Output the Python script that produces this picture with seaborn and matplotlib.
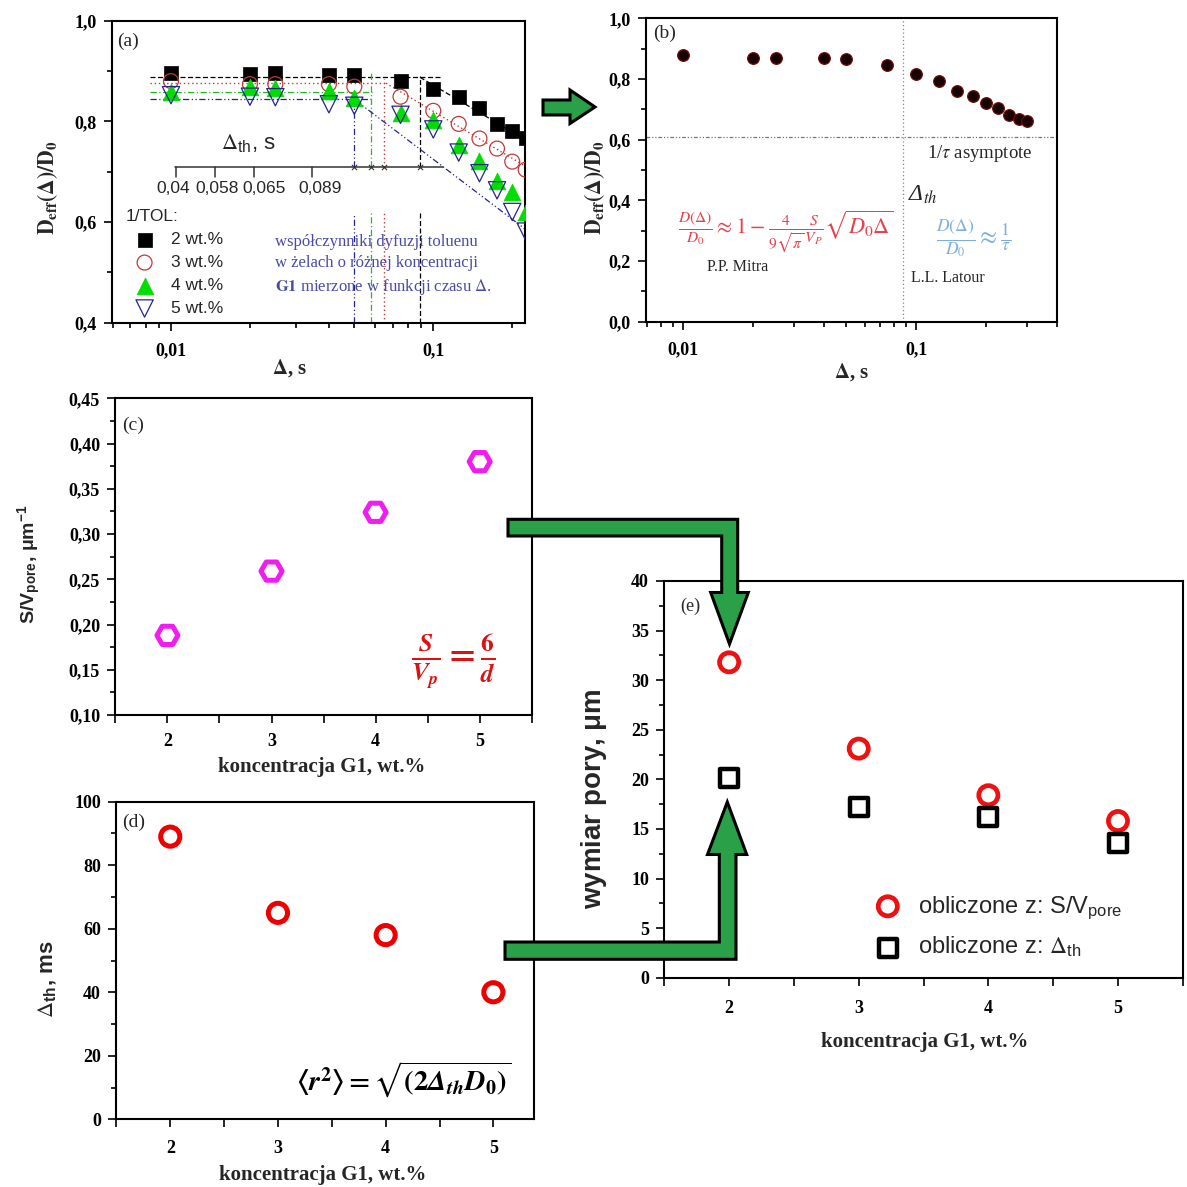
import matplotlib
matplotlib.use("Agg")
import matplotlib.pyplot as plt
from matplotlib.patches import Polygon
from matplotlib.ticker import FuncFormatter, MultipleLocator, FixedLocator, LogLocator, NullFormatter
import seaborn as sns

# ---------------- data ----------------
# (a) effective diffusion of toluene vs. diffusion time for four gel concentrations
delta_a = [0.01, 0.02, 0.025, 0.04, 0.05, 0.075, 0.1, 0.125, 0.15, 0.175, 0.2, 0.225]
d_eff_2wt = [0.897, 0.894, 0.897, 0.892, 0.892, 0.881, 0.864, 0.848, 0.827, 0.795, 0.781, 0.767]
d_eff_3wt = [0.880, 0.874, 0.874, 0.874, 0.869, 0.849, 0.821, 0.795, 0.766, 0.746, 0.720, 0.704]
d_eff_4wt = [0.859, 0.869, 0.866, 0.860, 0.847, 0.816, 0.803, 0.753, 0.722, 0.682, 0.660, 0.620]
d_eff_5wt = [0.852, 0.849, 0.848, 0.834, 0.831, 0.813, 0.784, 0.738, 0.697, 0.663, 0.620, 0.581]
series_labels = ["2 wt.%", "3 wt.%", "4 wt.%", "5 wt.%"]
plateau_level = [0.8875, 0.876, 0.858, 0.8445]
plateau_end = [0.108, 0.066, 0.0586, 0.058]
threshold_delta = [0.089, 0.065, 0.058, 0.05]
threshold_top = [0.89, 0.885, 0.90, 0.84]
slope_lines = {  # (start point, end point) of the short-time -> long-time trend lines
    "2": ((0.089, 0.8875), (0.2203, 0.766)),
    "3": ((0.066, 0.876), (0.226, 0.710)),
    "5": ((0.0505, 0.842), (0.2266, 0.584)),
}
inset_tick_labels = ["0,04", "0,058", "0,065", "0,089"]

# (b) single data set with the two asymptotic regimes
delta_b = [0.01, 0.02, 0.025, 0.04, 0.05, 0.075, 0.1, 0.125, 0.15, 0.175, 0.2, 0.225, 0.25, 0.275, 0.3]
d_eff_b = [0.879, 0.868, 0.869, 0.868, 0.865, 0.845, 0.816, 0.792, 0.761, 0.744, 0.720, 0.705, 0.681, 0.667, 0.662]
asymptote_b = 0.608
delta_th_b = 0.088

# (c)-(e) parameters vs. G1 concentration
conc = [2, 3, 4, 5]
s_v_pore = [0.188, 0.259, 0.324, 0.380]
delta_th_ms = [89, 65, 58, 40]
size_from_sv = [31.8, 23.1, 18.4, 15.8]
size_from_dth = [20.1, 17.2, 16.2, 13.6]

# ---------------- style ----------------
sns.set_style("ticks")
plt.rcParams["font.family"] = ["Liberation Serif", "DejaVu Serif"]
plt.rcParams["mathtext.fontset"] = "stix"
SERIF = ["Liberation Serif", "DejaVu Serif"]
SANS = ["Liberation Sans", "DejaVu Sans"]

W = H = 1187
fig = plt.figure(figsize=(W / 100, H / 100), dpi=100)
fig.patch.set_facecolor("white")


def rect(l, t, r, b):
    return [l / W, 1 - b / H, (r - l) / W, (b - t) / H]


def fxy(x, y):
    return x / W, 1 - y / H


def comma(fmt):
    return FuncFormatter(lambda v, p: (fmt % v).replace(".", ","))


def style_axes(ax, tick_size=13):
    for s in ax.spines.values():
        s.set_visible(True)
        s.set_linewidth(1.5)
        s.set_color("black")
    ax.set_facecolor("white")
    ax.grid(False)
    ax.tick_params(which="both", direction="out", top=False, right=False,
                   width=1.2, colors="black")
    ax.tick_params(which="major", length=6, pad=5)
    ax.tick_params(which="minor", length=3.5)
    for lab in ax.get_xticklabels() + ax.get_yticklabels():
        lab.set_fontfamily(SERIF)
        lab.set_fontweight("bold")
        lab.set_fontsize(tick_size)


def int_only(v, p):
    return "%d" % v if abs(v - round(v)) < 1e-6 else ""


# ================= panel (a) =================
ax_a = fig.add_axes(rect(112, 20.7, 525, 322.7))
ax_a.set_xscale("log")
marker_specs = [
    dict(marker="s", color="black", edgecolor="black", facecolor="black", s=100, linewidth=0.5),
    dict(marker="o", color="#c0393b", edgecolor="#c0393b", facecolor="none", s=115, linewidth=0.9),
    dict(marker="^", color="#00dd00", edgecolor="#00dd00", facecolor="#00dd00", s=145, linewidth=0.5),
    dict(marker="v", color="#24248f", edgecolor="#24248f", facecolor="none", s=155, linewidth=0.9),
]
for yv, spec, lab in zip([d_eff_2wt, d_eff_3wt, d_eff_4wt, d_eff_5wt], marker_specs, series_labels):
    sns.scatterplot(x=delta_a, y=yv, ax=ax_a, label=lab, zorder=4, **spec)

line_styles = [
    dict(color="black", ls=(0, (4, 2)), lw=0.9),
    dict(color="#c0393b", ls=(0, (1, 2)), lw=1.0),
    dict(color="#22bb22", ls=(0, (5, 2, 1, 2)), lw=0.9),
    dict(color="#24248f", ls=(0, (5, 2, 1, 2, 1, 2)), lw=0.9),
]
for lvl, end, st in zip(plateau_level, plateau_end, line_styles):
    ax_a.plot([0.0083, end], [lvl, lvl], zorder=2, **st)
for xv, top, st in zip(threshold_delta, threshold_top, line_styles):
    ax_a.plot([xv, xv], [0.4, 0.618], zorder=2, **st)
    ax_a.plot([xv, xv], [0.71, top], zorder=2, **st)
for key, st in zip(["2", "3", "5"], [line_styles[0], line_styles[1], line_styles[3]]):
    (x0, y0), (x1, y1) = slope_lines[key]
    ax_a.plot([x0, x1], [y0, y1], zorder=2, **st)

ax_a.set_xlim(0.00596, 0.2237)
ax_a.set_ylim(0.4, 1.0)
ax_a.xaxis.set_major_locator(FixedLocator([0.01, 0.1]))
ax_a.xaxis.set_major_formatter(comma("%g"))
ax_a.xaxis.set_minor_locator(LogLocator(base=10, subs=range(2, 10)))
ax_a.xaxis.set_minor_formatter(NullFormatter())
ax_a.yaxis.set_major_locator(MultipleLocator(0.2))
ax_a.yaxis.set_minor_locator(MultipleLocator(0.1))
ax_a.yaxis.set_major_formatter(comma("%.1f"))
style_axes(ax_a)
ax_a.tick_params(axis="x", which="major", pad=8)
ax_a.set_xlabel(r"$\mathbf{\Delta}$, s", fontfamily=SERIF, fontweight="bold", fontsize=15, va="center")
ax_a.xaxis.set_label_coords((290 - 112) / 413, -(368 - 322.7) / 302)
ax_a.set_ylabel(r"$\mathbf{D_{eff}(\Delta)/D_0}$", fontsize=15.5, va="center")
ax_a.yaxis.set_label_coords(-(112 - 48) / 413, (322.7 - 187.5) / 302)

# inset "threshold time" scale drawn inside panel (a)
iy = (322.7 - 166.7) / 302
ix0, ix1 = (175 - 112) / 413, (443.3 - 112) / 413
ax_a.plot([ix0, ix1], [iy, iy], transform=ax_a.transAxes, color="#333333", lw=1.1, zorder=3)
for px in [175.6, 214.5, 253.7, 311.5]:
    fx = (px - 112) / 413
    ax_a.plot([fx, fx], [iy, iy - 0.033], transform=ax_a.transAxes, color="#333333", lw=1.1, zorder=3)
for px, lab in zip([172.9, 216.9, 264.4, 320.2], inset_tick_labels):
    ax_a.text((px - 112) / 413, (322.7 - 188.3) / 302, lab, transform=ax_a.transAxes,
              ha="center", va="center", fontsize=12.5, fontfamily=SANS)
sns.scatterplot(x=threshold_delta, y=[0.71] * 4, ax=ax_a, marker="x", color="#333333",
                s=14, linewidth=0.8, zorder=5, legend=False)
ax_a.text((221 - 112) / 413, (322.7 - 143.3) / 302, r"$\Delta_\mathregular{th}$, s",
          transform=ax_a.transAxes, ha="left", va="center", fontsize=16, fontfamily=SANS)

# legend of panel (a)
fig.text(*fxy(125.7, 216), "1/TOL:", ha="left", va="center", fontsize=12.5, fontfamily=SANS)
h_a, l_a = ax_a.get_legend_handles_labels()
leg_a = ax_a.legend(h_a[:4], l_a[:4], loc="upper left",
                    bbox_to_anchor=((135.9 - 112) / 413, (322.7 - 232) / 302),
                    frameon=False, borderpad=0, borderaxespad=0, handlelength=1.0,
                    handletextpad=1.0, labelspacing=0.45, prop={"family": SANS, "size": 12.5})

blue_txt = "#4a4aa8"
ax_a.text((275 - 112) / 413, (322.7 - 241.7) / 302, "współczynniki dyfuzji toluenu",
          transform=ax_a.transAxes, ha="left", va="center", fontsize=12, color=blue_txt)
ax_a.text((275 - 112) / 413, (322.7 - 263.3) / 302, "w żelach o różnej koncentracji",
          transform=ax_a.transAxes, ha="left", va="center", fontsize=12, color=blue_txt)
ax_a.text((275 - 112) / 413, (322.7 - 286.7) / 302, r"$\mathbf{G1}$ mierzone w funkcji czasu $\Delta$.",
          transform=ax_a.transAxes, ha="left", va="center", fontsize=12, color=blue_txt)
fig.text(*fxy(117, 41.7), "(a)", ha="left", va="center", fontsize=14)

# ================= panel (b) =================
ax_b = fig.add_axes(rect(646, 18.3, 1056.5, 321.7))
ax_b.set_xscale("log")
sns.scatterplot(x=delta_b, y=d_eff_b, ax=ax_b, marker="o", color="#170303",
                edgecolor="#6e0b0b", s=70, linewidth=0.9, zorder=4, legend=False)
ax_b.axhline(asymptote_b, color="#777777", lw=0.9, ls=(0, (3, 1.5, 1, 1.5, 1, 1.5)), zorder=2)
ax_b.axvline(delta_th_b, color="#888888", lw=0.9, ls=(0, (1, 2)), zorder=2)
ax_b.set_xlim(0.00692, 0.4)
ax_b.set_ylim(0, 1.0)
ax_b.xaxis.set_major_locator(FixedLocator([0.01, 0.1]))
ax_b.xaxis.set_major_formatter(comma("%g"))
ax_b.xaxis.set_minor_locator(LogLocator(base=10, subs=range(2, 10)))
ax_b.xaxis.set_minor_formatter(NullFormatter())
ax_b.yaxis.set_major_locator(MultipleLocator(0.2))
ax_b.yaxis.set_minor_locator(MultipleLocator(0.1))
ax_b.yaxis.set_major_formatter(comma("%.1f"))
style_axes(ax_b)
ax_b.tick_params(axis="x", which="major", pad=8)
ax_b.set_xlabel(r"$\mathbf{\Delta}$, s", fontfamily=SERIF, fontweight="bold", fontsize=15, va="center")
ax_b.xaxis.set_label_coords((852 - 646) / 410.5, -(372 - 321.7) / 303.4)
ax_b.set_ylabel(r"$\mathbf{D_{eff}(\Delta)/D_0}$", fontsize=15.5, va="center")
ax_b.yaxis.set_label_coords(-(646 - 595) / 410.5, (321.7 - 188) / 303.4)

fig.text(*fxy(653, 33.3), "(b)", ha="left", va="center", fontsize=14)
fig.text(*fxy(926.7, 153), r"1/$\tau$ asymptote", ha="left", va="center", fontsize=13.5)
fig.text(*fxy(908, 195), r"Δ$_{th}$", ha="left", va="center", fontsize=17, fontstyle="italic")
fig.text(*fxy(678, 231.7),
         r"$\frac{D(\Delta)}{D_0}\approx 1-\frac{4}{9\sqrt{\pi}}\frac{S}{V_P}\sqrt{D_0\Delta}$",
         ha="left", va="center", fontsize=16, color="#e8404a")
fig.text(*fxy(707.3, 266.7), "P.P. Mitra", ha="left", va="center", fontsize=11.5)
fig.text(*fxy(936, 238), r"$\frac{D(\Delta)}{D_0}\approx\frac{1}{\tau}$",
         ha="left", va="center", fontsize=18, color="#7aaee0")
fig.text(*fxy(911, 277.7), "L.L. Latour", ha="left", va="center", fontsize=11.5)

# ================= panel (c) =================
ax_c = fig.add_axes(rect(115.4, 398.3, 531.7, 715))
sns.scatterplot(x=conc, y=s_v_pore, ax=ax_c, marker="H", color="#f01cf0", edgecolor="#f01cf0",
                facecolor="none", s=230, linewidth=3.6, zorder=4, legend=False)
ax_c.set_xlim(1.5, 5.5)
ax_c.set_ylim(0.10, 0.45)
ax_c.xaxis.set_major_locator(MultipleLocator(0.5))
ax_c.xaxis.set_major_formatter(FuncFormatter(int_only))
ax_c.yaxis.set_major_locator(MultipleLocator(0.05))
ax_c.yaxis.set_minor_locator(MultipleLocator(0.025))
ax_c.yaxis.set_major_formatter(comma("%.2f"))
style_axes(ax_c)
ax_c.tick_params(axis="x", which="major", pad=7)
ax_c.set_xlabel("koncentracja G1, wt.%", fontfamily=SERIF, fontweight="bold", fontsize=15, va="center")
ax_c.xaxis.set_label_coords((322 - 115.4) / 416.3, -(766.7 - 715) / 316.7)
ax_c.set_ylabel(r"S/V$_\mathregular{pore}$, $\mathregular{\mu}$m$^\mathregular{-1}$",
                fontfamily=SANS, fontweight="bold", fontsize=14, va="center")
ax_c.yaxis.set_label_coords(-(115.4 - 29.3) / 416.3, (715 - 564) / 316.7)
fig.text(*fxy(122, 425), "(c)", ha="left", va="center", fontsize=14)
fig.text(*fxy(453, 661), r"$\frac{\mathbfit{S}}{\mathbfit{V_p}}\mathbf{=}\frac{\mathbf{6}}{\mathbfit{d}}$",
         ha="center", va="center", fontsize=26, color="#dd1111")

# ================= panel (d) =================
ax_d = fig.add_axes(rect(116.4, 801.7, 534.3, 1119.3))
sns.scatterplot(x=conc, y=delta_th_ms, ax=ax_d, marker="o", color="#ee0000", edgecolor="#ee0000",
                facecolor="none", s=190, linewidth=3.6, zorder=4, legend=False)
ax_d.set_xlim(1.5, 5.38)
ax_d.set_ylim(0, 100)
ax_d.xaxis.set_major_locator(MultipleLocator(0.5))
ax_d.xaxis.set_major_formatter(FuncFormatter(int_only))
ax_d.yaxis.set_major_locator(MultipleLocator(20))
ax_d.yaxis.set_minor_locator(MultipleLocator(10))
ax_d.yaxis.set_major_formatter(FuncFormatter(lambda v, p: "%d" % v))
style_axes(ax_d)
ax_d.tick_params(axis="x", which="major", pad=9)
ax_d.set_xlabel("koncentracja G1, wt.%", fontfamily=SERIF, fontweight="bold", fontsize=15, va="center")
ax_d.xaxis.set_label_coords((323 - 116.4) / 417.9, -(1175 - 1119.3) / 317.6)
ax_d.set_ylabel(r"$\Delta_\mathregular{th}$, ms", fontfamily=SANS, fontweight="bold", fontsize=16, va="center")
ax_d.yaxis.set_label_coords(-(116.4 - 46.5) / 417.9, (1119.3 - 979) / 317.6)
fig.text(*fxy(122, 822.7), "(d)", ha="left", va="center", fontsize=14)
fig.text(*fxy(404, 1080),
         r"$\mathbf{\langle}\mathbfit{r}^{\mathbf{2}}\mathbf{\rangle = }\sqrt{\mathbf{(2}\mathbfit{\Delta}_{\mathbfit{th}}\mathbfit{D}_{\mathbf{0}}\mathbf{)}}$",
         ha="center", va="center", fontsize=20.5, color="black")

# ================= panel (e) =================
ax_e = fig.add_axes(rect(664.3, 581, 1182.8, 977.7))
sns.scatterplot(x=conc, y=size_from_sv, ax=ax_e, marker="o", color="#ee1111", edgecolor="#ee1111",
                facecolor="none", s=190, linewidth=3.4, zorder=4,
                label=r"obliczone z: S/V$_\mathregular{pore}$")
sns.scatterplot(x=conc, y=size_from_dth, ax=ax_e, marker="s", color="black", edgecolor="black",
                facecolor="none", s=170, linewidth=3.2, zorder=4,
                label=r"obliczone z: $\Delta_\mathregular{th}$")
ax_e.set_xlim(1.5, 5.5)
ax_e.set_ylim(0, 40)
ax_e.xaxis.set_major_locator(MultipleLocator(0.5))
ax_e.xaxis.set_major_formatter(FuncFormatter(int_only))
ax_e.yaxis.set_major_locator(MultipleLocator(5))
ax_e.yaxis.set_minor_locator(MultipleLocator(2.5))
ax_e.yaxis.set_major_formatter(FuncFormatter(lambda v, p: "%d" % v))
style_axes(ax_e)
ax_e.tick_params(axis="x", which="major", pad=10)
ax_e.set_xlabel("koncentracja G1, wt.%", fontfamily=SERIF, fontweight="bold", fontsize=15, va="center")
ax_e.xaxis.set_label_coords((925 - 664.3) / 518.5, -(1041.7 - 977.7) / 396.7)
ax_e.set_ylabel(r"wymiar pory, $\mathregular{\mu}$m", fontfamily=SANS, fontweight="bold", fontsize=20, va="center")
ax_e.yaxis.set_label_coords(-(664.3 - 594) / 518.5, (977.7 - 799) / 396.7)
fig.text(*fxy(680, 606.7), "(e)", ha="left", va="center", fontsize=13)
leg_e = ax_e.legend(loc="upper left", bbox_to_anchor=((876 - 664.3) / 518.5, (977.7 - 894) / 396.7),
                    frameon=False, borderpad=0, borderaxespad=0, handlelength=1.0,
                    handletextpad=0.8, labelspacing=0.6, prop={"family": SANS, "size": 17})

# ================= connecting arrows =================
green = "#2aa048"


def block_arrow(points):
    fig.add_artist(Polygon([fxy(x, y) for x, y in points], closed=True, transform=fig.transFigure,
                           facecolor=green, edgecolor="black", linewidth=2.2, zorder=10,
                           joinstyle="miter"))


block_arrow([(543, 100), (570, 100), (570, 90), (595, 107), (570, 123.5), (570, 115), (543, 115)])
block_arrow([(508, 519.3), (737.7, 519.3), (737.7, 592.5), (748.3, 592.5), (729.5, 644),
             (710.7, 592.5), (721.7, 592.5), (721.7, 536), (508, 536)])
block_arrow([(505, 942), (719.3, 942), (719.3, 854.5), (707.5, 854.5), (727.3, 802),
             (746.7, 854.5), (736, 854.5), (736, 959.3), (505, 959.3)])

fig.savefig("out.png", dpi=100, facecolor="white")
